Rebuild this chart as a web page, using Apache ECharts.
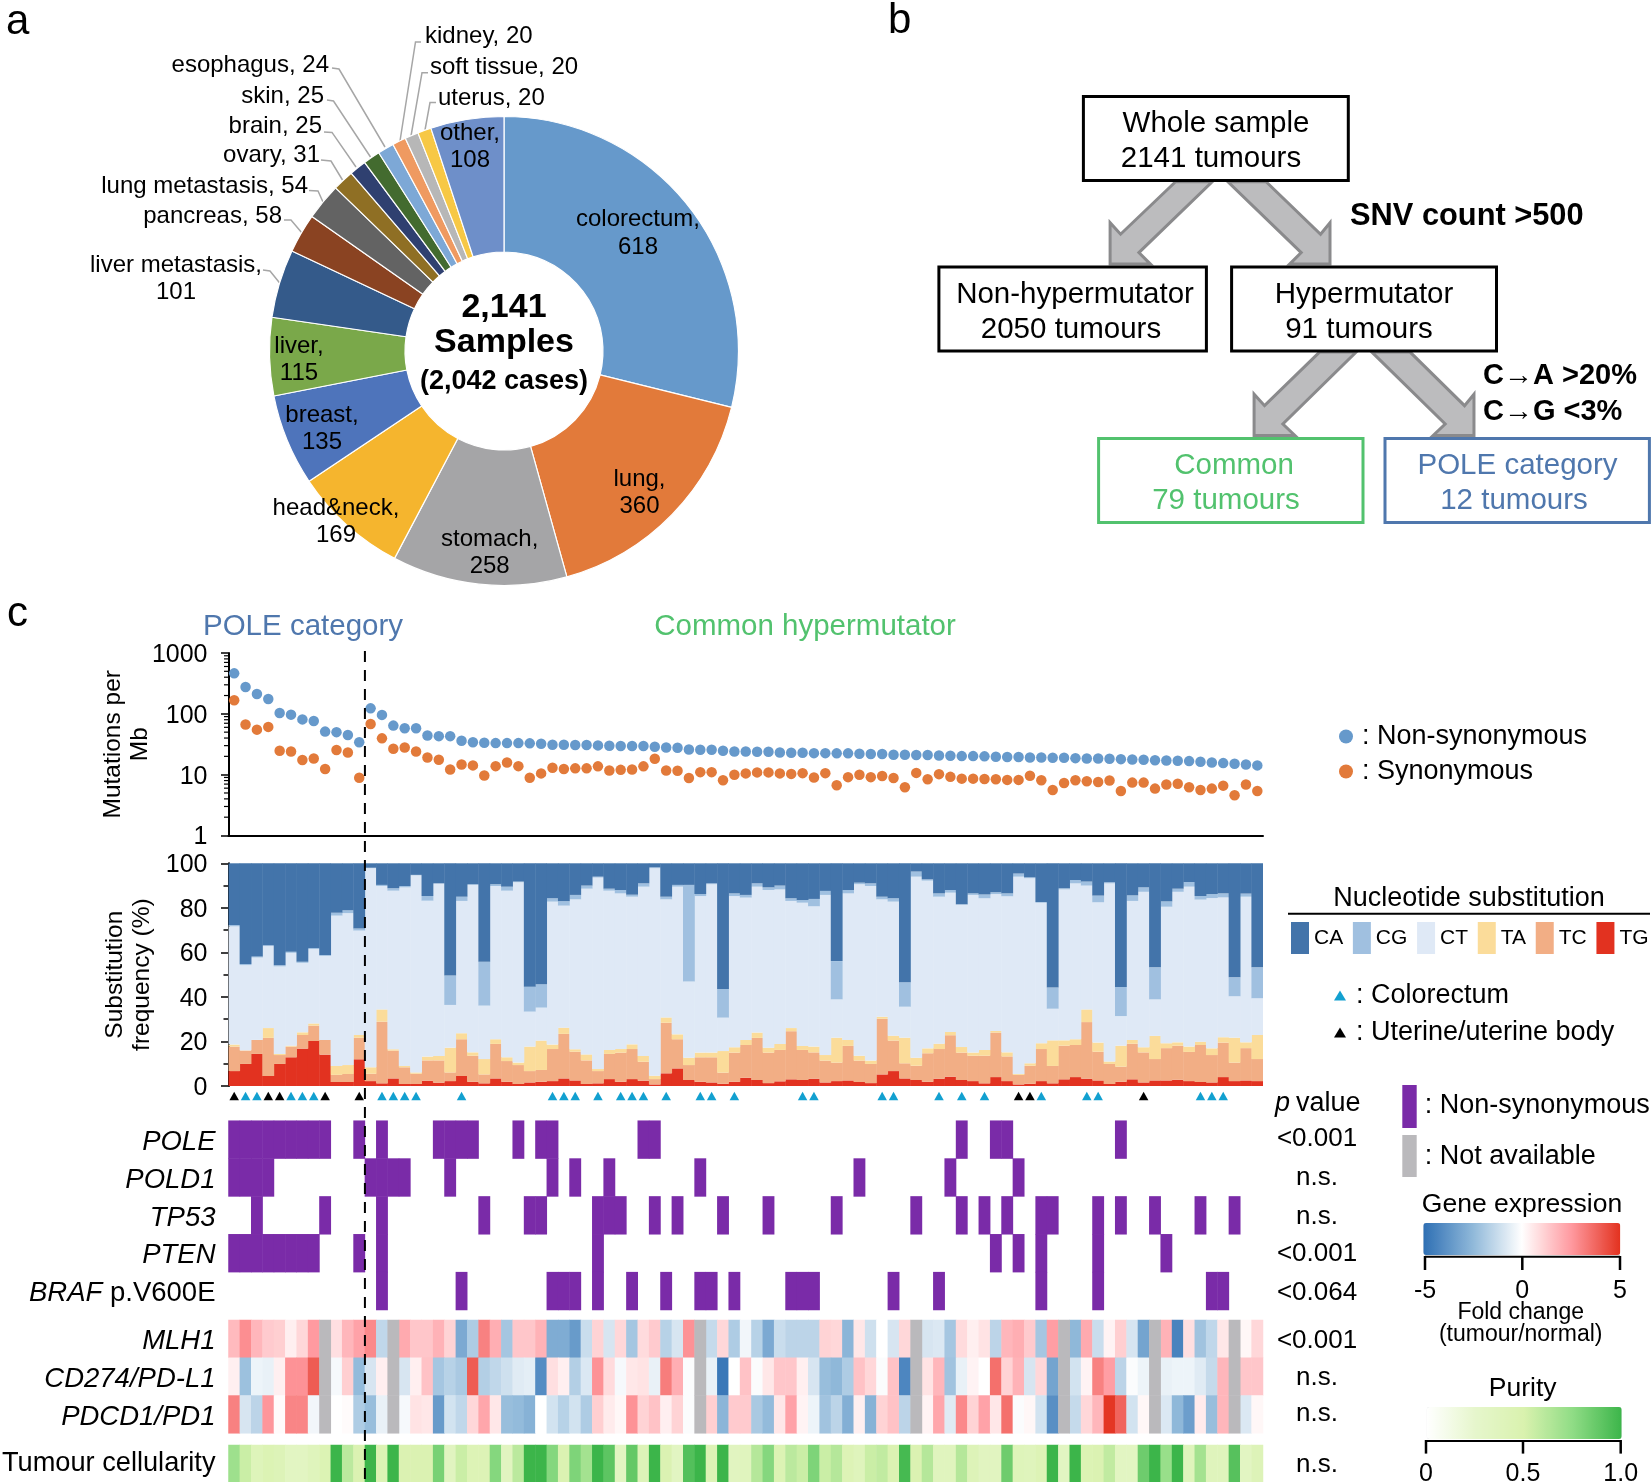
<!DOCTYPE html>
<html>
<head>
<meta charset="utf-8">
<style>html,body{margin:0;padding:0;background:#fff}#c{width:1651px;height:1482px}</style>
<script src="https://cdn.jsdelivr.net/npm/echarts@6/dist/echarts.min.js"></script>
</head>
<body>
<div id="c"></div>
<script>
// ---------- panel a ----------
const pieNames = ['colorectum','lung','stomach','head&neck','breast','liver','liver metastasis','pancreas','lung metastasis','ovary','brain','skin','esophagus','kidney','soft tissue','uterus','other'];
const pieValues = [618,360,258,169,135,115,101,58,54,31,25,25,24,20,20,20,108];
const pieColors = ['#6699cb','#e27a3a','#a5a5a7','#f5b52e','#4e74bb','#7aa84a','#345a8a','#8a4322','#636363','#8f6f24','#2f4070','#436b2f','#7da8d6','#ef9a61','#b7b7b7','#f7c845','#6e8fc9'];

// ---------- panel c ----------
const nonSyn = [463,276,212,175,103,97,81,76,51,50,45,34,
 123,96,64,58,58,44,43,43,36,34,33.5,33,33,33,32.7,32.2,31,31,30.7,30.7,30.3,29.9,29.5,29.5,29.5,28.8,28,27.7,
 26,25.7,25.7,24.7,24.1,24.1,23.8,23.8,23.2,22.9,
 22.9,22.6,22.6,22.4,22.4,22.1,21.8,21.8,21.2,21.2,
 21,21,20.7,20.5,20.2,20.2,20,19.7,19.5,19.5,
 19.2,19.2,19,19,18.7,18.5,18.5,18.3,18,17.8,
 17.6,17.3,17.1,16.9,16.7,16.3,15.9,15.5,15.1,14.7,14.2];
const syn = [167,67,55,61,24.7,24.1,17.4,18.5,12.4,25.4,23.2,8.9,
 68,39.5,26.7,28,24.1,19.2,17.6,12.2,14.7,14.2,9.7,13.8,15.9,13.8,8.9,10.5,13,12.4,12.7,12.7,13.7,11.7,12,12.2,13.7,18.3,11.7,11.6,
 8.8,11,11,8.1,10,10.5,10.9,10.9,10.5,10.3,
 10.6,9,10.6,6.7,9.1,10,9.1,9.5,8.8,6.2,
 10.7,8.4,10.2,9.2,8.6,8.6,8.5,8.4,8.2,8.2,
 9.6,8.1,5.6,7.3,8.1,7.8,7.6,8,5.4,7.4,
 7.4,5.9,6.9,7.1,6.2,5.6,5.9,6.6,4.6,6.9,5.4];
const logMinorTicks = [2,3,4,5,6,7,8,9,20,30,40,50,60,70,80,90,200,300,400,500,600,700,800,900];

// upper edge (%) of each band of the stacked bars
const topCG = [72.3,54.8,58.2,63.2,54.2,60.3,55.8,62,58.8,77.8,78.9,70.7,
 98,90.3,88.8,89.8,94.8,85.3,91,49.6,85,90.6,55.8,90.6,89.5,91.8,44.6,45.7,84.3,83,85.8,90,94,88.6,88,85.9,91,98.2,85,90.3,
 90.3,86.2,91,43.6,86.5,85.8,91,89.2,90,84.3,
 83.5,84,87.6,56.1,88,91.3,91,85,84.3,46.6,
 96.3,92.8,86.5,88,81.6,86.5,86,87,86.5,95.4,
 93.7,82.6,44.2,88.8,92.5,91.8,85.5,91.5,44.5,85.6,
 89.2,53.3,82.9,88.6,91.6,85.3,86.2,86.5,48.8,86.4,53.3];
const topCT = [71.7,54.3,57.7,62.8,53.7,59.8,55.3,61.5,58.4,76.5,77.6,69.8,
 97.8,89.8,87.7,89.2,94.6,83.2,90.9,36.4,83.1,90.3,36.1,89.8,87.7,91.5,33.4,35.2,82.8,81,83.8,88.6,93.6,87.7,86.5,85,89.5,97.8,83.8,89.5,
 46.9,85.3,90.6,30.7,85.3,84.6,89.5,88,88.3,83.1,
 82.3,80.7,85.8,38.9,86.5,90.6,89.8,83.8,82.8,35.6,
 94,92.2,85,86.8,81.4,85.8,84.3,86.2,85.2,94,
 93.3,82.3,34.7,88.3,91,90,82.5,91,31.4,83.1,
 87.2,38.9,80.5,87.2,89.5,83.7,84.4,84.7,40.3,85,39.4];
const topTA = [18.6,16,20.7,26,14.4,18.1,24.1,28.1,20.7,9,9.4,22.9,
 8.4,34.4,16.5,9,6.1,13.2,13.5,17.2,23.7,15.1,12.1,21,12.9,10.5,17.7,20.4,18.6,26.2,16.5,14.2,7.6,16.2,16.6,18.7,13.5,4.6,30.8,23.2,
 12.7,15,15,15.7,17.4,20.7,24,17.2,18.9,26,
 18,17.7,13.9,21.7,20.7,13.6,11.4,31.1,22.6,21.7,
 12.7,16.9,19,24.3,17.5,15,16.2,24.7,15.1,5.4,
 10.2,19.2,20.5,20.5,21,34.4,19.5,11,18.1,20.7,
 17.4,22.5,19.2,19.6,17.7,19.9,16.9,21.9,21.7,19.6,22.9];
const topTC = [17.7,15.9,20.7,21.6,13.9,17.7,22.9,27.1,20.7,5,5.4,21.7,
 5.5,28.9,15.9,8.4,5.5,11.5,11.5,6.1,21,13.6,5.2,18.9,11.2,9.4,6.7,7.2,16.6,23.4,15.4,11.5,6.7,14.4,15,16.6,10.9,3.1,28.4,21,
 9.4,12.9,12.9,6,15,18.4,21.6,15,16.2,24.6,
 16.2,15.1,11.4,10.5,18,11.4,9.9,30.2,20.4,10.2,
 9.1,14.7,16.6,22.8,15,13.6,13.6,24,13.3,5,
 9.1,16.6,9,18.1,18.4,28.7,15.4,9.9,8.7,19,
 15.1,12.1,17,18.1,15.3,18.4,13.9,19.5,10.5,17,12.1];
const topTG = [6.7,9.9,14.4,4.5,9.9,12.9,16.8,20.2,14.1,1.8,1.8,12,
 2.2,1.2,3.4,.9,.9,2.4,1.5,2.2,4.5,1.9,1.2,3.4,1.9,.9,1.6,1.9,2.2,3.4,2.5,.9,1.2,3.1,1.9,3.1,2.4,.7,5.7,7.9,
 2.7,1.9,1.6,1,1.9,3.7,2.7,1.3,2.1,3,
 2.7,3.3,1.6,2.2,2.5,1.8,1.3,5.2,6.7,3.4,
 2.7,1.9,3.3,4.2,2.7,2.2,1.2,4,2.2,.7,
 1,2.2,1.2,3,4,3.3,2.5,.9,1.9,3,
 1.6,2.5,2.5,2.8,2.2,1.8,1.6,4,2.2,2.5,2.2];

const colorectumCols = [1,2,5,6,7,13,14,15,16,20,28,29,30,32,34,35,36,38,41,42,44,50,51,57,58,62,64,66,71,75,76,85,86,87];
const uterineCols = [0,3,4,8,11,69,70,80];

const geneRows = ['POLE','POLD1','TP53','PTEN','BRAF p.V600E'];
const colsPOLE = [0,1,2,3,4,5,6,7,8,11,13,18,19,20,21,25,27,28,36,37,64,67,68,78];
const colsPOLD1 = [0,1,2,3,12,13,14,15,19,28,30,33,41,55,63,69];
const colsTP53 = [2,8,13,22,26,27,32,33,34,37,39,43,47,53,60,64,66,68,71,72,76,78,81,85,88];
const colsPTEN = [0,1,2,3,4,5,6,7,11,13,32,67,69,71,76,82];
const colsBRAF = [13,20,28,29,30,32,35,38,41,42,44,49,50,51,58,62,71,76,86,87];

const exprRows = ['MLH1','CD274/PD-L1','PDCD1/PD1'];
const exprMLH1 = [1.7,2.8,1.8,1.3,1.2,.4,1,2.5,null,.8,1.8,2.3,2.9,-1.4,null,2.1,1.4,1.4,1.9,1.1,-3,-1.8,3.1,2,-2,1.4,1.4,1.9,-2.9,-2.9,
 -3.5,-1.2,1.1,-.9,1,-2,.9,1.3,-1.6,-.9,2.7,null,-1.3,1,-1.8,-.3,-1.6,-3,-1.2,-1.5,-1.5,-1.5,1.1,1,-2.6,.6,-1.1,0,-.9,1,
 null,-.9,-.8,-2,.9,.4,.7,-1.5,1.8,2,1.3,-2,2.4,null,-2.5,2.1,-1.2,.3,1.2,-.9,-3.2,null,1.9,-4.3,.8,-2.1,-1.4,.6,null,.2,1];
const exprCD274 = [.4,-2.2,-.4,-.5,.4,2.7,2.7,4,null,-.2,1.2,-2.4,-.9,.4,null,-.9,.4,1.5,-2,-1.6,-1.9,4,-1.7,-1.4,-1.1,-.7,-.6,-4,.8,.4,
 -1.7,-.8,2.7,.9,-.2,.6,.7,-.5,3.2,2,-.1,null,-.5,-4.7,0,1.5,-.1,.6,1.4,1.4,.4,-.9,-2.3,-2.5,-1.8,1.5,1,-.1,1.5,-4.2,
 null,.7,1.8,-2.1,-.5,.3,0,3.5,1.1,1.9,-.9,1,-3.2,null,-1,.3,3.1,2.4,-1.5,-.1,-.4,null,-.5,-.4,-.4,-.7,-1.3,1.8,null,1.4,1.4];
const exprPDCD1 = [3.1,-.9,-1.5,2.6,.1,3,3,-.3,null,0,.1,-1.8,-2.3,-.5,null,-.2,.7,.6,-3.5,-1,-1.4,1,2.2,.6,-2.3,-2.4,-2.7,0,-1,-1.6,
 -1,-1.8,1.2,.5,.2,2.7,1.1,1.5,.4,1.1,-.1,null,1.2,-2.6,1.3,1.3,-1.9,-2.4,.6,2.3,.3,-.4,-2.1,-1.5,-2.8,.4,-2.7,1.1,1.5,-1.5,
 null,.3,2.2,-.7,2.9,1.1,2.3,.6,3.5,-.1,.2,-1,-3.9,null,-1.3,1,1.8,4.9,3.8,-1,.2,null,-.8,-2.5,-3.4,.5,-2.3,1.8,null,-.8,.2];
const purity = [.7,.55,.4,.45,.42,.33,.33,.38,.45,1,.6,.47,1,.45,1,.47,.47,.47,.82,.35,.55,.43,.43,.78,.35,.6,1,1,.78,.47,
 .8,.68,1,.9,.33,.88,.42,1,.47,.33,.93,1,.43,1,.35,.37,.62,.78,.45,.6,.55,.8,.55,.62,.43,.38,.55,.58,.47,.97,
 .47,.62,.37,.37,.62,.42,.35,.35,.85,.4,.38,.43,1,.33,1,.45,.47,.58,.33,.33,.85,1,.72,1,.38,.68,.38,.38,.92,.33,.42];
const pValues = ['<0.001','n.s.','n.s.','<0.001','<0.064','<0.001','n.s.','n.s.','n.s.'];

// ---------- layout / style ----------
const FONT = '"Liberation Sans", Arial, sans-serif';
const PL = 228.5, PR = 1263, COLS = 91;
const colNames = Array.from({length: COLS}, (_, i) => String(i + 1));
const SUB = {CA:'#4374aa',CG:'#a0c0e0',CT:'#dfe9f6',TA:'#fbdc9a',TC:'#f2ae85',TG:'#e23220'};
const PURPLE = '#7a2ba8', GREY = '#bab9bc';
const GREEN = '#52c26e', BLUE = '#4f77ad';
const round1 = v => Math.round(v * 10) / 10;

const pieLayout = {
 'colorectum':[638,231.5,'center'],'lung':[639.5,491,'center'],'stomach':[489.7,551,'center'],'head&neck':[336,520,'center'],
 'breast':[322,427,'center'],'liver':[299,358,'center'],'other':[470,144.7,'center'],
 'liver metastasis':[176,277,'center',[[263,270],[270,271],[280.5,284]]],
 'pancreas':[282,214,'right',[[284,220],[291,220],[302,233]]],
 'lung metastasis':[308,184.5,'right',[[309,190.6],[318,191],[323,202]]],
 'ovary':[320,153,'right',[[321,160],[331,161],[342.5,180]]],
 'brain':[322,124,'right',[[324,132],[332,132.4],[356,167]]],
 'skin':[324,94,'right',[[327,100],[333.5,101],[370.5,157]]],
 'esophagus':[329,63,'right',[[332,68],[339,69],[385,147]]],
 'kidney':[425,34,'left',[[421,42],[415.5,42],[400,141]]],
 'soft tissue':[430,65,'left',[[428,72.7],[422,72.7],[411,136]]],
 'uterus':[438,96,'left',[[436,102.6],[430,102.6],[425,130]]]
};
const twoLine = new Set(['colorectum','lung','stomach','head&neck','breast','liver','other','liver metastasis']);
const inner = new Set(['colorectum','lung','stomach','head&neck','breast','liver','other']);

// ---------- graphic helpers ----------
const g = [];
function txt(text, x, y, size, opt) {
  opt = opt || {};
  g.push({type:'text', z:50, style:{text, x, y:y+2, fontSize:size, fontFamily:FONT, fontWeight:opt.bold?'bold':'normal', fontStyle:opt.italic?'italic':'normal',
    fill:opt.color||'#000', align:opt.align||'center', verticalAlign:'middle'}});
}
function box(x1,y1,x2,y2,color){ g.push({type:'rect', z:40, shape:{x:x1,y:y1,width:x2-x1,height:y2-y1}, style:{fill:'#fff',stroke:color,lineWidth:3}}); }
function seg(x1,y1,x2,y2,w,dash){ g.push({type:'line', z:60, shape:{x1,y1,x2,y2}, style:{stroke:'#000',lineWidth:w,lineDash:dash||null}}); }
const bx = p => [830 + p[0]/1.91, p[1]/2.613];
function arrow(pts){ g.push({type:'polygon', z:30, shape:{points:pts.map(bx)}, style:{fill:'#bcbcbe',stroke:'#8a8a8c',lineWidth:3}}); }

// panel letters
txt('a', 6, 20, 42, {align:'left'});
txt('b', 888, 19, 42, {align:'left'});
txt('c', 7, 612, 42, {align:'left'});

// panel a centre
txt('2,141', 504, 306, 34, {bold:true});
txt('Samples', 504, 340.6, 34, {bold:true});
txt('(2,042 cases)', 504, 380, 27, {bold:true});

// panel b
arrow([[660,475],[555,612],[535,582],[535,690],[612,690],[590,660],[730,475]]);
arrow([[833,475],[937,612],[955,582],[955,690],[878,690],[900,660],[760,475]]);
arrow([[935,920],[830,1060],[810,1030],[810,1138],[888,1138],[865,1108],[1005,920]]);
arrow([[1035,920],[1175,1108],[1152,1138],[1230,1138],[1230,1030],[1212,1060],[1108,920]]);
box(1083.4,96.4,1348.3,180.6,'#000');
box(938.9,267,1206.4,351,'#000');
box(1231.6,267,1496.5,351,'#000');
box(1098.6,438.6,1363,522.4,GREEN);
box(1385,438.6,1649.4,522.4,BLUE);
txt('Whole sample',1216,121.7,29.5); txt('2141 tumours',1211,157,29.5);
txt('Non-hypermutator',1075,292.8,29.5); txt('2050 tumours',1071,328,29.5);
txt('Hypermutator',1364,292.8,29.5); txt('91 tumours',1359,328,29.5);
txt('Common',1234,464,29.5,{color:GREEN}); txt('79 tumours',1226,498.7,29.5,{color:GREEN});
txt('POLE category',1517.5,464,29.5,{color:BLUE}); txt('12 tumours',1514,498.7,29.5,{color:BLUE});
txt('SNV count >500',1350,215,30.8,{bold:true,align:'left'});
txt('C→A >20%',1483,374,29,{bold:true,align:'left'});
txt('C→G <3%',1483,409.5,29,{bold:true,align:'left'});

// panel c headers
txt('POLE category',303,625,29.5,{color:BLUE});
txt('Common hypermutator',805,625,29.5,{color:GREEN});
seg(PL + 12*(PR-PL)/COLS, 651, PL + 12*(PR-PL)/COLS, 1482, 2, [11,8]);

// right hand side
txt('Nucleotide substitution',1469,897,27);
seg(1288,913.7,1650,913.7,2);
txt('p',1275,1101.6,27,{italic:true,align:'left'});
txt('value',1296,1101.6,27,{align:'left'});
const pY = [1137,1176,1215,1252,1291,1339,1376,1412,1463];
pValues.forEach((t,i)=>txt(t,1317,pY[i],26));
g.push({type:'rect',z:40,shape:{x:1402.3,y:1085,width:14.4,height:43},style:{fill:PURPLE}});
g.push({type:'rect',z:40,shape:{x:1402.3,y:1135,width:14.4,height:42},style:{fill:GREY}});
txt(': Non-synonymous',1424.7,1104,27,{align:'left'});
txt(': Not available',1424.7,1154.6,27,{align:'left'});
txt('Gene expression',1522,1202.6,26.5);
seg(1425,1256.7,1620,1256.7,2); seg(1425,1256,1425,1270,2.5); seg(1522.3,1256,1522.3,1270,2.5); seg(1620,1256,1620,1270,2.5);
txt('-5',1425,1289,25); txt('0',1522.3,1289,25); txt('5',1620,1289,25);
txt('Fold change',1520.7,1311,23); txt('(tumour/normal)',1520.7,1333,23);
txt('Purity',1522.7,1387,26.5);
seg(1426,1441,1620.7,1441,2); seg(1426,1440,1426,1453.6,2.5); seg(1523,1440,1523,1453.6,2.5); seg(1620.7,1440,1620.7,1453.6,2.5);
txt('0',1426,1472,25); txt('0.5',1523,1472,25); txt('1.0',1620.7,1472,25);

// ---------- grids ----------
const gridRects = [[653,182.5],[863.3,222.7],[1086,20],[1120.7,189.3],[1320,113.3],[1445,37]];
const grids = gridRects.map(r => ({left:PL, width:PR-PL, top:r[0], height:r[1], containLabel:false, outerBoundsMode:'none'}));
const xAxes = gridRects.map((r,i) => ({type:'category', gridIndex:i, data:colNames, boundaryGap:true,
  axisLabel:{show:false}, axisTick:{show:false}, splitLine:{show:false},
  axisLine:{show:i===0, onZero:false, lineStyle:{color:'#000',width:2}}}));
const rowAxis = (i, data, fmt, size, padTop) => ({type:'category', gridIndex:i, data, inverse:true,
  axisLine:{show:false}, axisTick:{show:false}, splitLine:{show:false},
  axisLabel:{margin:13, color:'#000', fontSize:size, fontFamily:FONT, formatter:fmt, padding:[padTop,0,0,0],
    rich:{i:{fontStyle:'italic',fontSize:size,fontFamily:FONT,color:'#000'}, n:{fontSize:size,fontFamily:FONT,color:'#000'}}}});
const italicFmt = v => { const p = v.split(' '); return '{i|'+p[0]+'}' + (p[1] ? '{n| '+p[1]+'}' : ''); };
const tickLabel = {fontSize:25,fontFamily:FONT,color:'#000',margin:21,padding:[4,0,0,0],formatter:v=>'{v|'+v+'}',rich:{v:{fontSize:25,fontFamily:FONT,color:'#000'}}};
const yAxes = [
 {type:'log', logBase:10, gridIndex:0, min:1, max:1000, splitLine:{show:false},
  name:'Mutations per\nMb', nameLocation:'middle', nameRotate:90, nameGap:75, nameMoveOverlap:false,
  nameTextStyle:{fontSize:24.5,fontFamily:FONT,color:'#000',lineHeight:27},
  axisLine:{show:true,lineStyle:{color:'#000',width:2}}, axisTick:{show:true,length:7.5,lineStyle:{color:'#000',width:1.5}},
  minorTick:{show:false}, axisLabel:tickLabel},
 {type:'value', gridIndex:1, min:0, max:100, interval:20, splitLine:{show:false},
  name:'Substitution\nfrequency (%)', nameLocation:'middle', nameRotate:90, nameGap:73, nameMoveOverlap:false,
  nameTextStyle:{fontSize:24.5,fontFamily:FONT,color:'#000',lineHeight:27},
  axisLine:{show:true,lineStyle:{color:'#000',width:2}}, axisTick:{show:true,length:7.5,lineStyle:{color:'#000',width:1.5}},
  minorTick:{show:true,splitNumber:2,length:5,lineStyle:{color:'#000',width:1.5}},
  axisLabel:tickLabel},
 {type:'value', gridIndex:2, min:0, max:1, show:false},
 rowAxis(3, geneRows, italicFmt, 27.5, 5),
 rowAxis(4, exprRows, italicFmt, 27.5, 5),
 rowAxis(5, ['Tumour cellularity'], v => '{n|'+v+'}', 27.2, 1)
];

// ---------- series ----------
const series = [];
const dot = (name, data, color) => series.push({type:'scatter', name, xAxisIndex:0, yAxisIndex:0, data, symbol:'circle', symbolSize:10.5, itemStyle:{color,opacity:1}, z:3});
dot('Synonymous', syn, '#e27a3a');
dot('Non-synonymous', nonSyn, '#6699cb');
series.push({type:'custom', name:'minor ticks', xAxisIndex:0, yAxisIndex:0, silent:true, data:logMinorTicks.map(v=>[0,v]), encode:{x:0,y:1},
  renderItem:(params, api) => { const y = api.coord([0, api.value(1)])[1], x = params.coordSys.x;
    return {type:'line', shape:{x1:x-4.5,y1:y,x2:x,y2:y}, style:{stroke:'#000',lineWidth:1.2}}; }});

const bands = {
 TG: topTG,
 TC: topTC.map((v,i)=>round1(v-topTG[i])),
 TA: topTA.map((v,i)=>round1(v-topTC[i])),
 CT: topCT.map((v,i)=>round1(v-topTA[i])),
 CG: topCG.map((v,i)=>round1(v-topCT[i])),
 CA: topCG.map(v=>round1(100-v))
};
['TG','TC','TA','CT','CG','CA'].forEach(k => series.push({type:'bar', name:k, stack:'sub', xAxisIndex:1, yAxisIndex:1, data:bands[k],
  barWidth:'104%', itemStyle:{color:SUB[k]}, animation:false}));

const tri = (name, cols, color) => series.push({type:'scatter', name, xAxisIndex:2, yAxisIndex:2, data:cols.map(c=>[c,0.5]), symbol:'triangle', symbolSize:[9.5,8.5], itemStyle:{color,opacity:1}});
tri('Colorectum', colorectumCols, '#12a0d0');
tri('Uterine/uterine body', uterineCols, '#000');

const geneCols = [colsPOLE, colsPOLD1, colsTP53, colsPTEN, colsBRAF];
const mutIdx = series.length;
series.push({type:'heatmap', name:'mutated', xAxisIndex:3, yAxisIndex:3, progressive:0,
  data:geneCols.flatMap((cols,r)=>cols.map(c=>[c,r,1])), itemStyle:{borderWidth:0}});
const exprIdx = series.length;
const exprArrays = [exprMLH1, exprCD274, exprPDCD1];
series.push({type:'heatmap', name:'expression', xAxisIndex:4, yAxisIndex:4, progressive:0,
  data:exprArrays.flatMap((a,r)=>a.map((v,c)=>v===null?null:[c,r,v]).filter(Boolean))});
const naIdx = series.length;
series.push({type:'heatmap', name:'not available', xAxisIndex:4, yAxisIndex:4, progressive:0,
  data:exprArrays.flatMap((a,r)=>a.map((v,c)=>v===null?[c,r,1]:null).filter(Boolean))});
const purIdx = series.length;
series.push({type:'heatmap', name:'purity', xAxisIndex:5, yAxisIndex:5, progressive:0,
  data:purity.map((v,c)=>[c,0,v])});

series.push({type:'pie', name:'samples', center:[504,351], radius:[99,234.5], startAngle:90, clockwise:true, avoidLabelOverlap:false, animation:false,
  itemStyle:{borderColor:'#fff',borderWidth:1.2},
  emphasis:{disabled:true},
  data:pieNames.map((n,i)=>({name:n, value:pieValues[i], itemStyle:{color:pieColors[i]},
    label:{position:inner.has(n)?'inner':'outer', show:true, color:'#000', fontSize:24, fontFamily:FONT, lineHeight:27.5, textBorderWidth:0,
      formatter:n+','+(twoLine.has(n)?'\n':' ')+pieValues[i]},
    labelLine:{show:!inner.has(n), lineStyle:{color:'#a6a6a6',width:1.5}}})),
  labelLayout:(p)=>{ const n = pieNames[p.dataIndex], L = pieLayout[n];
    const o = {x:L[0], y:L[1]+2, align:L[2], verticalAlign:'middle'};
    if (L[3]) o.labelLinePoints = L[3];
    return o; }
});

const option = {
  animation:false,
  backgroundColor:'#fff',
  textStyle:{fontFamily:FONT},
  grid:grids, xAxis:xAxes, yAxis:yAxes, series, graphic:g,
  legend:[
   {data:['Non-synonymous','Synonymous'], orient:'vertical', left:1339, top:723, padding:0, icon:'circle', itemWidth:14, itemHeight:14, itemGap:8,
    formatter:n=>': '+n, textStyle:{fontSize:27,fontFamily:FONT,color:'#000',padding:[0,0,0,4]}, selectedMode:false},
   {data:['CA','CG','CT','TA','TC','TG'], orient:'horizontal', left:1291, top:922, width:400, padding:0, icon:'rect', itemWidth:18, itemHeight:32, itemGap:9.7,
    textStyle:{fontSize:21,fontFamily:FONT,color:'#000',padding:[0,0,0,0]}, selectedMode:false},
   {data:['Colorectum','Uterine/uterine body'], orient:'vertical', left:1334, top:982, padding:0, icon:'triangle', itemWidth:12, itemHeight:10, itemGap:10,
    formatter:n=>': '+n, textStyle:{fontSize:27,fontFamily:FONT,color:'#000',padding:[0,0,0,5]}, selectedMode:false}
  ],
  visualMap:[
   {type:'continuous', seriesIndex:exprIdx, min:-5, max:5, orient:'horizontal', left:1423.3, top:1223, padding:0, itemWidth:32, itemHeight:197, calculable:false, text:null, showLabel:false,
    inRange:{color:['#2e6fb4','#8fb8d9','#ffffff','#ff9aa0','#e3321f']}, textStyle:{fontSize:0}, hoverLink:false},
   {type:'continuous', seriesIndex:purIdx, min:0, max:1, orient:'horizontal', left:1426.7, top:1407, padding:0, itemWidth:32, itemHeight:195, calculable:false, text:null, showLabel:false,
    inRange:{color:['#ffffff','#e6f6cc','#d9f2ae','#8fdc85','#3cb54a']}, textStyle:{fontSize:0}, hoverLink:false},
   {type:'piecewise', show:false, seriesIndex:mutIdx, pieces:[{value:1,color:PURPLE}]},
   {type:'piecewise', show:false, seriesIndex:naIdx, pieces:[{value:1,color:GREY}]}
  ]
};
const chart = echarts.init(document.getElementById('c'), null, {renderer:'canvas', width:1651, height:1482});
chart.setOption(option);
</script>
</body>
</html>
